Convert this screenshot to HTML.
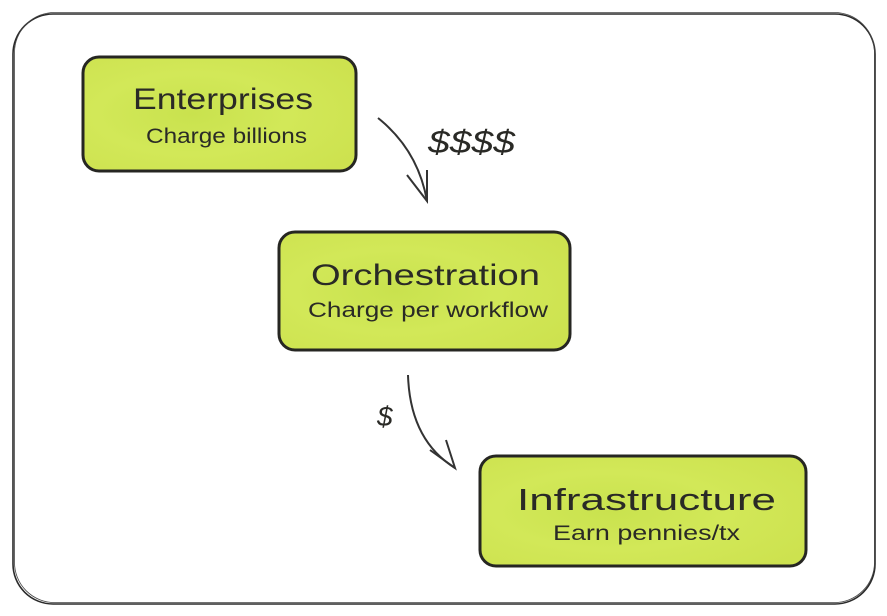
<!DOCTYPE html>
<html><head><meta charset="utf-8"><style>
html,body{margin:0;padding:0;background:#fff;width:887px;height:616px;overflow:hidden}
text{font-family:"Liberation Sans","DejaVu Sans",sans-serif;fill:#2a2a26}
</style></head><body>
<svg width="887" height="616" viewBox="0 0 887 616" xmlns="http://www.w3.org/2000/svg">
<defs>
<radialGradient id="g" cx="40%" cy="50%" r="70%">
<stop offset="0" stop-color="#c9e24e"/>
<stop offset="0.5" stop-color="#d2e858"/>
<stop offset="1" stop-color="#cde24f"/>
</radialGradient>
</defs>
<rect x="13" y="14" width="862" height="590" rx="40" fill="#fff" stroke="#2a2a2a" stroke-width="1.6"/>
<rect x="14.5" y="12.5" width="860" height="590" rx="40" fill="none" stroke="#444" stroke-width="0.8"/>

<rect x="83" y="57" width="273" height="114" rx="16" fill="url(#g)" stroke="#262622" stroke-width="3"/>
<text x="133" y="109" font-size="30" textLength="180" lengthAdjust="spacingAndGlyphs">Enterprises</text>
<text x="146" y="143" font-size="21" textLength="161" lengthAdjust="spacingAndGlyphs">Charge billions</text>

<rect x="279" y="232" width="291" height="118" rx="16" fill="url(#g)" stroke="#262622" stroke-width="3"/>
<text x="311" y="285" font-size="30" textLength="229" lengthAdjust="spacingAndGlyphs">Orchestration</text>
<text x="308" y="317" font-size="21" textLength="240" lengthAdjust="spacingAndGlyphs">Charge per workflow</text>

<rect x="480" y="456" width="326" height="110" rx="16" fill="url(#g)" stroke="#262622" stroke-width="3"/>
<text x="517" y="510" font-size="31" textLength="259" lengthAdjust="spacingAndGlyphs">Infrastructure</text>
<text x="553" y="540" font-size="21" textLength="187" lengthAdjust="spacingAndGlyphs">Earn pennies/tx</text>

<path d="M378 118 Q418 150 427 201" fill="none" stroke="#333" stroke-width="2"/>
<path d="M407 175 L427 201 L427 170" fill="none" stroke="#333" stroke-width="2"/>
<text x="428" y="153" font-size="32" font-style="italic" textLength="87" lengthAdjust="spacingAndGlyphs">$$$$</text>

<path d="M408 375 Q410 440 455 468" fill="none" stroke="#333" stroke-width="2"/>
<path d="M430 450 L455 468 L446 440" fill="none" stroke="#333" stroke-width="2"/>
<text x="377" y="426" font-size="28" font-style="italic">$</text>
</svg>
</body></html>
